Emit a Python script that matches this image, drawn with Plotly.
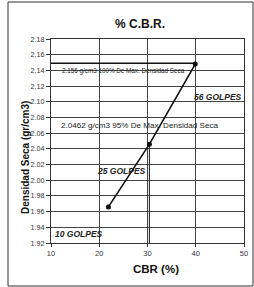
import plotly.graph_objects as go

cbr = [21.9, 30.4, 39.9]
densidad = [1.966, 2.046, 2.148]
golpes_labels = ["10 GOLPES", "25 GOLPES", "56 GOLPES"]
golpes_x = [15.8, 24.7, 44.6]
golpes_y = [1.932, 2.0115, 2.106]
max_dens_line = 2.149
txt_100 = "2.156 g/cm3 100% De Max. Densidad Seca"
txt_95 = "2.0462 g/cm3 95% De Max. Densidad Seca"
x_ticks = [10, 20, 30, 40, 50]
y_ticks = [1.92, 1.94, 1.96, 1.98, 2.00, 2.02, 2.04, 2.06, 2.08, 2.10, 2.12, 2.14, 2.16, 2.18]

F = "Liberation Sans, Arial, sans-serif"
L, R, T, B = 51, 10, 39, 44
PW, PH = 254 - L - R, 287 - T - B


def px(xp):
    return (xp - L) / PW


def py(yp):
    return (287 - B - yp) / PH


fig = go.Figure()
fig.add_trace(go.Scatter(x=[10, cbr[2]], y=[max_dens_line, max_dens_line], mode="lines",
                         line=dict(color="#111", width=1.6), hoverinfo="skip", showlegend=False))
fig.add_trace(go.Scatter(x=[cbr[1], cbr[1]], y=[1.92, densidad[1]], mode="lines",
                         line=dict(color="#333", width=1.2), hoverinfo="skip", showlegend=False))
fig.add_trace(go.Scatter(x=cbr, y=densidad, mode="lines+markers",
                         line=dict(color="#111", width=1.6),
                         marker=dict(color="#111", size=5), showlegend=False))

annos = [
    dict(x=25, y=2.1397, text=txt_100, font=dict(size=6.3, color="#222", family=F)),
    dict(x=28.5, y=2.070, text=txt_95, font=dict(size=8.1, color="#222", family=F)),
]
for lx, ly, lt in zip(golpes_x, golpes_y, golpes_labels):
    annos.append(dict(x=lx, y=ly, text="<b><i>" + lt + "</i></b>",
                      font=dict(size=8.5, color="#222", family=F)))
for a in annos:
    a.update(xref="x", yref="y", showarrow=False)
annos.append(dict(x=px(140), y=py(24), xref="paper", yref="paper",
                  text="<b>% C.B.R.</b>", showarrow=False,
                  font=dict(size=12, color="#111", family=F)))
annos.append(dict(x=px(156), y=py(269), xref="paper", yref="paper",
                  text="<b>CBR (%)</b>", showarrow=False,
                  font=dict(size=11.5, color="#111", family=F)))
annos.append(dict(x=px(25), y=py(158), xref="paper", yref="paper", textangle=-90,
                  text="<b>Densidad Seca (gr/cm3)</b>", showarrow=False,
                  font=dict(size=10, color="#111", family=F)))
for a in annos:
    a.update(xanchor="center", yanchor="middle")

fig.update_layout(
    width=254, height=287,
    margin=dict(l=L, r=R, t=T, b=B),
    paper_bgcolor="white", plot_bgcolor="white",
    annotations=annos,
    xaxis=dict(range=[10, 50], tickvals=x_ticks, showgrid=True, gridcolor="#444", gridwidth=1,
               showline=True, linecolor="#333", linewidth=1, mirror=True, ticks="outside",
               ticklen=3, tickcolor="#333", zeroline=False, automargin=False,
               tickfont=dict(size=7.5, color="#333", family=F)),
    yaxis=dict(range=[1.92, 2.18], tickvals=y_ticks, tickformat=".2f", showgrid=True,
               gridcolor="#444", gridwidth=1, showline=True, linecolor="#333", linewidth=1,
               mirror=True, ticks="outside", ticklen=4, tickcolor="#333", zeroline=False,
               automargin=False,
               tickfont=dict(size=7.2, color="#333", family=F)),
    shapes=[dict(type="rect", xref="paper", yref="paper",
                 x0=px(8), x1=px(253), y0=py(286), y1=py(2),
                 line=dict(color="#333", width=1), layer="below")],
)

fig.write_html("out.html", config={"displayModeBar": False},
               post_script="document.body.style.margin='0';document.body.style.overflow='hidden';")
